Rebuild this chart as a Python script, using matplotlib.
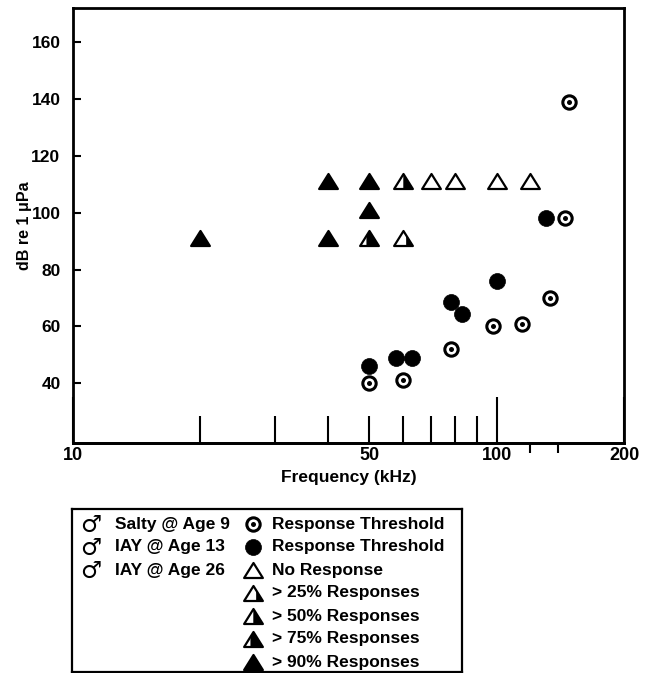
import numpy as np
import matplotlib
matplotlib.use('Agg')
import matplotlib.pyplot as plt
from matplotlib.path import Path
from matplotlib.ticker import FixedLocator, FuncFormatter, NullLocator

plt.rcParams['font.family'] = ['Liberation Sans', 'DejaVu Sans']
plt.rcParams['font.weight'] = 'bold'
plt.rcParams['axes.labelweight'] = 'bold'

# Salty @ Age 9 - response threshold (bullseye)
salty_freq = [50, 60, 78, 98, 115, 134, 145, 148]
salty_db = [40, 41, 52, 60, 61, 70, 98, 139]

# IAY @ Age 13 - response threshold (filled circle)
iay13_freq = [50, 58, 63, 78, 83, 100, 131]
iay13_db = [46, 49, 49, 68.5, 64.5, 76, 98]

# IAY @ Age 26 - triangles, level = % of responses (0 = no response)
iay26_freq = [20, 40, 40, 50, 50, 50, 60, 60, 70, 80, 100, 120]
iay26_db = [91, 91, 111, 101, 111, 91, 91, 111, 111, 111, 111, 111]
iay26_level = [90, 90, 90, 90, 90, 75, 25, 50, 0, 0, 0, 0]

legend_left = ['Salty @ Age 9', 'IAY @ Age 13', 'IAY @ Age 26']
legend_right = ['Response Threshold', 'Response Threshold', 'No Response',
                '> 25% Responses', '> 50% Responses', '> 75% Responses',
                '> 90% Responses']
legend_levels = [0, 25, 50, 75, 90]

H = 0.8  # triangle half height (half width = 1)


def closed(verts):
    return Path(verts + [verts[0]], closed=True)


TRI = closed([(0, H), (-1, -H), (1, -H)])


def tri_fill(level):
    # black part of a triangle, filled from the right side
    p = level / 100
    if p <= 0.5:
        c = 1 - np.sqrt(2 * p)
        return closed([(c, -H), (1, -H), (c, H - 2 * H * c)])
    c = np.sqrt(2 * (1 - p)) - 1
    return closed([(c, -H), (1, -H), (0, H), (c, H + 2 * H * c)])


def draw_tri(a, x, y, level, ms=13.5):
    if level >= 90:
        a.plot(x, y, ls='none', marker=TRI, ms=ms, mfc='black', mec='black', mew=1.6)
        return
    a.plot(x, y, ls='none', marker=TRI, ms=ms, mfc='white', mec='black', mew=1.6)
    if level > 0:
        a.plot(x, y, ls='none', marker=tri_fill(level), ms=ms, mfc='black',
               mec='black', mew=0.3)


def draw_bull(a, x, y):
    a.plot(x, y, ls='none', marker='o', ms=9.6, mfc='white', mec='black', mew=2.2)
    a.plot(x, y, ls='none', marker='o', ms=3.6, mfc='black', mec='black', mew=0)


def draw_dot(a, x, y):
    a.plot(x, y, ls='none', marker='o', ms=11.5, mfc='black', mec='black', mew=0.5)


fig = plt.figure(figsize=(6.5, 6.73), dpi=100)
ax = fig.add_axes([73 / 650, 1 - 443 / 673, 551 / 650, 435 / 673])

draw_bull(ax, salty_freq, salty_db)
draw_dot(ax, iay13_freq, iay13_db)
for lev in sorted(set(iay26_level)):
    xs = [f for f, l in zip(iay26_freq, iay26_level) if l == lev]
    ys = [d for d, l in zip(iay26_db, iay26_level) if l == lev]
    draw_tri(ax, xs, ys, lev)

ax.set_xscale('log')
ax.set_xlim(10, 200)
ax.set_ylim(19, 172)
ax.xaxis.set_major_locator(FixedLocator([10, 100, 200]))
ax.xaxis.set_major_formatter(FuncFormatter(lambda v, p: f'{v:g}'))
ax.xaxis.set_minor_locator(FixedLocator(list(range(20, 100, 10))))
ax.xaxis.set_minor_formatter(FuncFormatter(lambda v, p: '50' if round(v) == 50 else ''))
ax.set_yticks(range(40, 161, 20))

ax.tick_params(axis='x', which='major', direction='in', length=33, width=1.5,
               labelsize=13, pad=3)
ax.tick_params(axis='x', which='minor', direction='in', length=19.5, width=1.5,
               labelsize=13, pad=3)
ax.tick_params(axis='y', direction='in', length=6, width=1.5, labelsize=12.5, pad=9)
for s in ax.spines.values():
    s.set_linewidth(2)

# short outward marks below the axis
sec = ax.secondary_xaxis('bottom')
sec.set_xticks([120, 140])
sec.xaxis.set_minor_locator(NullLocator())
sec.tick_params(which='major', direction='out', length=7, width=1.5, labelbottom=False)
sec.spines['bottom'].set_linewidth(2)

ax.set_xlabel('Frequency (kHz)', fontsize=12.5, labelpad=4)
ax.set_ylabel('dB re 1 μPa', fontsize=11.5)
ax.yaxis.set_label_coords(-0.075, 0.5)

# legend box
lax = fig.add_axes([72 / 650, 1 / 673, 390 / 650, 163 / 673])
lax.set_xlim(0, 390)
lax.set_ylim(163, 0)
lax.set_xticks([])
lax.set_yticks([])
for s in lax.spines.values():
    s.set_linewidth(1.6)

for i, name in enumerate(legend_left):
    y = 15 + 23 * i
    lax.text(19, y + 1, '♂', ha='center', va='center', fontsize=17,
             family='DejaVu Sans', fontweight='bold')
    lax.text(43, y, name, ha='left', va='center', fontsize=12.5)

for i, name in enumerate(legend_right):
    y = 15 + 23 * i
    if i == 0:
        draw_bull(lax, [181], [y])
    elif i == 1:
        draw_dot(lax, [181], [y])
    else:
        draw_tri(lax, [181], [y], legend_levels[i - 2])
    lax.text(200, y, name, ha='left', va='center', fontsize=12.5)

fig.savefig('out.png', dpi=100)
